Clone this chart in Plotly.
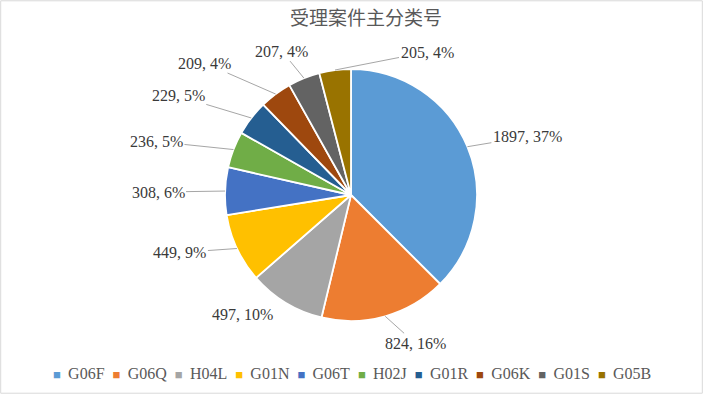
import plotly.graph_objects as go
import math

# ---- data ----
categories = ["G06F", "G06Q", "H04L", "G01N", "G06T", "H02J", "G01R", "G06K", "G01S", "G05B"]
values = [1897, 824, 497, 449, 308, 236, 229, 209, 207, 205]
colors = ["#5B9BD5", "#ED7D31", "#A5A5A5", "#FFC000", "#4472C4",
          "#70AD47", "#255E91", "#9E480E", "#636363", "#997300"]
title_text = "受理案件主分类号"

# ---- layout settings (pixels) ----
W, H = 703, 394
cx, cy, R = 351, 195, 126
SERIF = "Liberation Serif"
# label text offset from the slice-edge anchor (pixels), and whether a leader line is drawn
label_offsets = [(60, -10), (30, 27), (-43, 12), (-57, 4), (-67, 1),
                 (-77, -8), (-73, -22), (-71, -31), (-22, -27), (92, -18)]
leader = [True, True, False, True, True, True, True, True, True, True]

fig = go.Figure(go.Pie(
    labels=categories, values=values, sort=False, direction="clockwise", rotation=0,
    marker=dict(colors=colors, line=dict(color="white", width=1.8)),
    textinfo="none", hoverinfo="label+value+percent",
    domain=dict(x=[(cx - R) / W, (cx + R) / W], y=[1 - (cy + R) / H, 1 - (cy - R) / H]),
    showlegend=False,
))

total = sum(values)
cum = 0
annotations = []
for i, v in enumerate(values):
    mid = (cum + v / 2) / total * 2 * math.pi
    cum += v
    ax_px = cx + R * math.sin(mid)
    ay_px = cy - R * math.cos(mid)
    pct = round(v / total * 100)
    dx, dy = label_offsets[i]
    annotations.append(dict(
        x=ax_px / W, y=1 - ay_px / H, xref="paper", yref="paper",
        text=f"{v}, {pct}%", showarrow=True, arrowhead=0, arrowwidth=1,
        arrowcolor="#A6A6A6" if leader[i] else "rgba(0,0,0,0)",
        ax=dx, ay=dy, axref="pixel", ayref="pixel", standoff=0,
        font=dict(family=SERIF, size=16, color="#3A3A3A"),
    ))

# legend line: coloured squares followed by category names
legend_html = "&nbsp;&nbsp;".join(
    f"<span style='color:{c};font-size:13px'>■&nbsp;</span>&nbsp;{n}"
    for n, c in zip(categories, colors)
)
annotations.append(dict(
    x=352 / W, y=1 - 373 / H, xref="paper", yref="paper", xanchor="center", yanchor="middle",
    text=legend_html, showarrow=False,
    font=dict(family=SERIF, size=16, color="#595959"),
))

fig.update_layout(
    width=W, height=H,
    margin=dict(l=0, r=0, t=0, b=0),
    paper_bgcolor="white", plot_bgcolor="white",
    title=dict(text=title_text, x=366 / W, xanchor="center", y=1 - 18 / H, yanchor="middle",
               font=dict(family="Noto Sans CJK SC", size=19, color="#595959")),
    showlegend=False,
    annotations=annotations,
    shapes=[dict(type="rect", xref="paper", yref="paper", x0=0.001, y0=0.002, x1=0.999, y1=0.998,
                 line=dict(color="#D9D9D9", width=1))],
)

fig.write_html("out.html", config={"displayModeBar": False},
               post_script="document.body.style.margin='0';")
